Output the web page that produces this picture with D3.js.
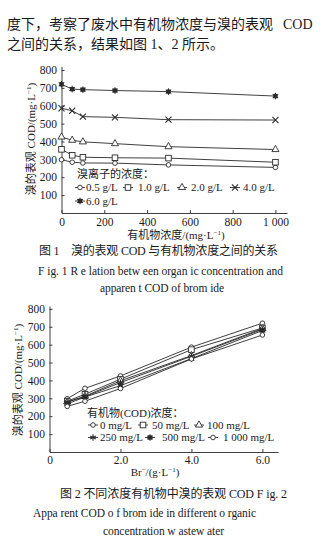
<!DOCTYPE html>
<html><head><meta charset="utf-8">
<script src="https://cdn.jsdelivr.net/npm/d3@7"></script>
<style>
html,body{margin:0;padding:0;background:#fff;}
svg{display:block;}
text{fill:#1a1a1a;}
</style></head>
<body>
<svg id="page" width="334" height="539"></svg>
<script>
// ---------- DATA ----------
const organicConc = [0, 50, 100, 250, 500, 1000];          // mg/L (Fig.1 x)
const bromideConc = [0.5, 1.0, 2.0, 4.0, 6.0];              // g/L  (Fig.2 x)
// apparent COD (mg/L) per bromide concentration, at each organic concentration
const cod_Br05 = [298, 284, 280, 279, 269, 255];
const cod_Br10 = [356, 323, 312, 309, 307, 284];
const cod_Br20 = [425, 407, 398, 388, 371, 355];
const cod_Br40 = [586, 572, 539, 535, 522, 520];
const cod_Br60 = [720, 693, 690, 685, 679, 654];
const bromideLabels = ["0.5 g/L", "1.0 g/L", "2.0 g/L", "4.0 g/L", "6.0 g/L"];
const organicLabels = ["0 mg/L", "50 mg/L", "100 mg/L", "250 mg/L", "500 mg/L", "1 000 mg/L"];
const yTicks = [100, 200, 300, 400, 500, 600, 700, 800];
const x1Ticks = [0, 200, 400, 600, 800, 1000];
const x1TickLabels = ["0", "200", "400", "600", "800", "1 000"];
const x2Ticks = [0, 2, 4, 6];
const x2TickLabels = ["0", "2.0", "4.0", "6.0"];

const fig1Series = [cod_Br05, cod_Br10, cod_Br20, cod_Br40, cod_Br60];
// Fig.2 shows the same measurements grouped by organic concentration
const fig2Series = organicConc.map((_, j) => fig1Series.map(s => s[j]));

// ---------- STYLE ----------
const SERIF = "'Liberation Serif','Noto Sans CJK SC',serif";
const CJK = "'Liberation Serif','Noto Sans CJK SC',sans-serif";
const INK = "#2a2a2a";
const svg = d3.select("#page");
svg.append("rect").attr("width",334).attr("height",539).attr("fill","#fff");

// marker types
function drawMarker(g, type, x, y) {
  const s = g.append("g").attr("transform", `translate(${x},${y})`);
  if (type === "circle") {
    s.append("circle").attr("r", 2.3).attr("fill", "#fff").attr("stroke", INK).attr("stroke-width", 0.9);
  } else if (type === "square") {
    s.append("rect").attr("x", -2.8).attr("y", -2.8).attr("width", 5.6).attr("height", 5.6)
      .attr("fill", "#fff").attr("stroke", INK).attr("stroke-width", 0.9);
  } else if (type === "triangle") {
    s.append("path").attr("d", d3.symbol(d3.symbolTriangle, 22)()).attr("fill", "#fff")
      .attr("stroke", INK).attr("stroke-width", 0.9);
  } else if (type === "times") {
    s.append("path").attr("d", d3.symbol(d3.symbolTimes, 26)()).attr("fill", "none")
      .attr("stroke", INK).attr("stroke-width", 1.1);
  } else if (type === "asterisk") {
    s.append("path").attr("d", d3.symbol(d3.symbolAsterisk, 28)()).attr("fill", "none")
      .attr("stroke", INK).attr("stroke-width", 1.1);
  } else if (type === "filled") {
    s.append("rect").attr("x", -2.2).attr("y", -2.2).attr("width", 4.4).attr("height", 4.4).attr("fill", INK);
    s.append("path").attr("d", d3.symbol(d3.symbolAsterisk, 30)()).attr("fill", "none")
      .attr("stroke", INK).attr("stroke-width", 1);
  }
}

// ---------- TOP PARAGRAPH ----------
svg.append("text").attr("x", 7).attr("y", 29).attr("font-family", CJK).attr("font-size", 14)
  .text("度下，考察了废水中有机物浓度与溴的表观");
svg.append("text").attr("x", 283).attr("y", 29).attr("font-family", SERIF).attr("font-size", 14)
  .attr("fill", "#1a1a4a").text("COD");
svg.append("text").attr("x", 7).attr("y", 48.5).attr("font-family", CJK).attr("font-size", 14)
  .attr("xml:space", "preserve").text("之间的关系，结果如图 1、2 所示。");

// ---------- generic chart ----------
function yTitle(g, cx, cy) {
  const t = g.append("text").attr("transform", `translate(${cx},${cy}) rotate(-90)`)
    .attr("text-anchor", "middle").attr("font-family", CJK).attr("font-size", 11);
  t.append("tspan").text("溴的表观 COD/(mg·L");
  t.append("tspan").attr("dy", -4).attr("font-size", 7).text("−1");
  t.append("tspan").attr("dy", 4).text(")");
}

function axes(g, x, y, xTicks, xLabels, xPad) {
  const ya = g.append("g").attr("transform", `translate(${x.range()[0]},0)`)
    .call(d3.axisLeft(y).tickValues(yTicks).tickSizeInner(-3).tickSizeOuter(0).tickPadding(4.5));
  const xa = g.append("g").attr("transform", `translate(0,${y.range()[0]})`)
    .call(d3.axisBottom(x).tickValues(xTicks).tickFormat((d, i) => xLabels[i])
      .tickSizeInner(-3).tickSizeOuter(0).tickPadding(xPad));
  [ya, xa].forEach(a => {
    a.selectAll("path,line").attr("stroke", INK).attr("stroke-width", 0.9);
    a.selectAll("text").attr("font-family", SERIF).attr("font-size", 11.5).attr("fill", "#1a1a1a");
  });
}

function series(g, x, y, xs, vals, type) {
  const line = d3.line().x((d, i) => x(xs[i])).y(d => y(d));
  g.append("path").attr("d", line(vals)).attr("fill", "none").attr("stroke", INK).attr("stroke-width", 0.9);
  vals.forEach((v, i) => drawMarker(g, type, x(xs[i]), y(v)));
}

function legendItem(g, type, mx, tx, cy, label) {
  g.append("line").attr("x1", mx - 5).attr("x2", mx + 5).attr("y1", cy).attr("y2", cy)
    .attr("stroke", INK).attr("stroke-width", 0.9);
  drawMarker(g, type, mx, cy);
  g.append("text").attr("x", tx).attr("y", cy + 3.8).attr("font-family", SERIF).attr("font-size", 11)
    .text(label);
}

// ---------- FIGURE 1 ----------
const g1 = svg.append("g");
const x1 = d3.scaleLinear().domain([0, 1054]).range([61.5, 287]);
const y1 = d3.scaleLinear().domain([0, 820]).range([213, 66.4]);
axes(g1, x1, y1, x1Ticks, x1TickLabels, 5);
yTitle(g1, 35, 139);
const fig1Types = ["circle", "square", "triangle", "times", "filled"];
fig1Series.forEach((s, i) => series(g1, x1, y1, organicConc, s, fig1Types[i]));
const t1 = g1.append("text").attr("x", 176).attr("y", 239).attr("text-anchor", "middle")
  .attr("font-family", CJK).attr("font-size", 11);
t1.append("tspan").text("有机物浓度/(mg·L");
t1.append("tspan").attr("dy", -4).attr("font-size", 7).text("−1");
t1.append("tspan").attr("dy", 4).text(")");
// legend
g1.append("text").attr("x", 77).attr("y", 178).attr("font-family", CJK).attr("font-size", 11).text("溴离子的浓度：");
const leg1 = [[80, 86, 187.5], [128, 138, 187.5], [182, 191, 187.5], [235, 243, 187.5], [80, 86, 201]];
leg1.forEach((p, i) => legendItem(g1, fig1Types[i], p[0], p[1], p[2], bromideLabels[i]));
// captions
svg.append("text").attr("x", 39).attr("y", 255).attr("font-family", CJK).attr("font-size", 12)
  .attr("textLength", 239).attr("lengthAdjust", "spacing").attr("xml:space", "preserve")
  .text("图 1　溴的表观 COD 与有机物浓度之间的关系");
svg.append("text").attr("x", 38).attr("y", 274.5).attr("font-family", SERIF).attr("font-size", 11.5)
  .attr("textLength", 245).attr("lengthAdjust", "spacing")
  .text("F ig. 1 R e lation betw een organ ic concentration and");
svg.append("text").attr("x", 100).attr("y", 292).attr("font-family", SERIF).attr("font-size", 11.5)
  .attr("textLength", 124).attr("lengthAdjust", "spacing")
  .text("apparen t COD of brom ide");

// ---------- FIGURE 2 ----------
const g2 = svg.append("g");
const x2 = d3.scaleLinear().domain([0, 6.44]).range([49.5, 278]);
const y2 = d3.scaleLinear().domain([0, 816]).range([452, 306]);
axes(g2, x2, y2, x2Ticks, x2TickLabels, 3.5);
yTitle(g2, 22, 380);
const fig2Types = ["circle", "square", "triangle", "asterisk", "filled", "circle"];
fig2Series.forEach((s, i) => series(g2, x2, y2, bromideConc, s, fig2Types[i]));
const t2 = g2.append("text").attr("x", 155).attr("y", 475.5).attr("text-anchor", "middle")
  .attr("font-family", SERIF).attr("font-size", 11);
t2.append("tspan").text("Br");
t2.append("tspan").attr("dy", -4).attr("font-size", 7).text("−");
t2.append("tspan").attr("dy", 4).text("/(g·L");
t2.append("tspan").attr("dy", -4).attr("font-size", 7).text("−1");
t2.append("tspan").attr("dy", 4).text(")");
g2.append("text").attr("x", 87).attr("y", 417).attr("font-family", CJK).attr("font-size", 11).text("有机物(COD)浓度：");
const leg2 = [[93, 100, 425], [143, 152, 425], [199, 207, 425], [93, 100, 437.5], [150, 162, 437.5], [213, 223, 437.5]];
leg2.forEach((p, i) => legendItem(g2, fig2Types[i], p[0], p[1], p[2], organicLabels[i]));
svg.append("text").attr("x", 60).attr("y", 497.5).attr("font-family", CJK).attr("font-size", 12)
  .attr("textLength", 227).attr("lengthAdjust", "spacing").attr("xml:space", "preserve")
  .text("图 2 不同浓度有机物中溴的表观 COD F ig. 2");
svg.append("text").attr("x", 33).attr("y", 516.5).attr("font-family", SERIF).attr("font-size", 11.5)
  .attr("textLength", 223).attr("lengthAdjust", "spacing")
  .text("Appa rent COD o f brom ide in different o rganic");
svg.append("text").attr("x", 103).attr("y", 535).attr("font-family", SERIF).attr("font-size", 11.5)
  .attr("textLength", 121).attr("lengthAdjust", "spacing")
  .text("concentration w astew ater");
</script>
</body></html>
